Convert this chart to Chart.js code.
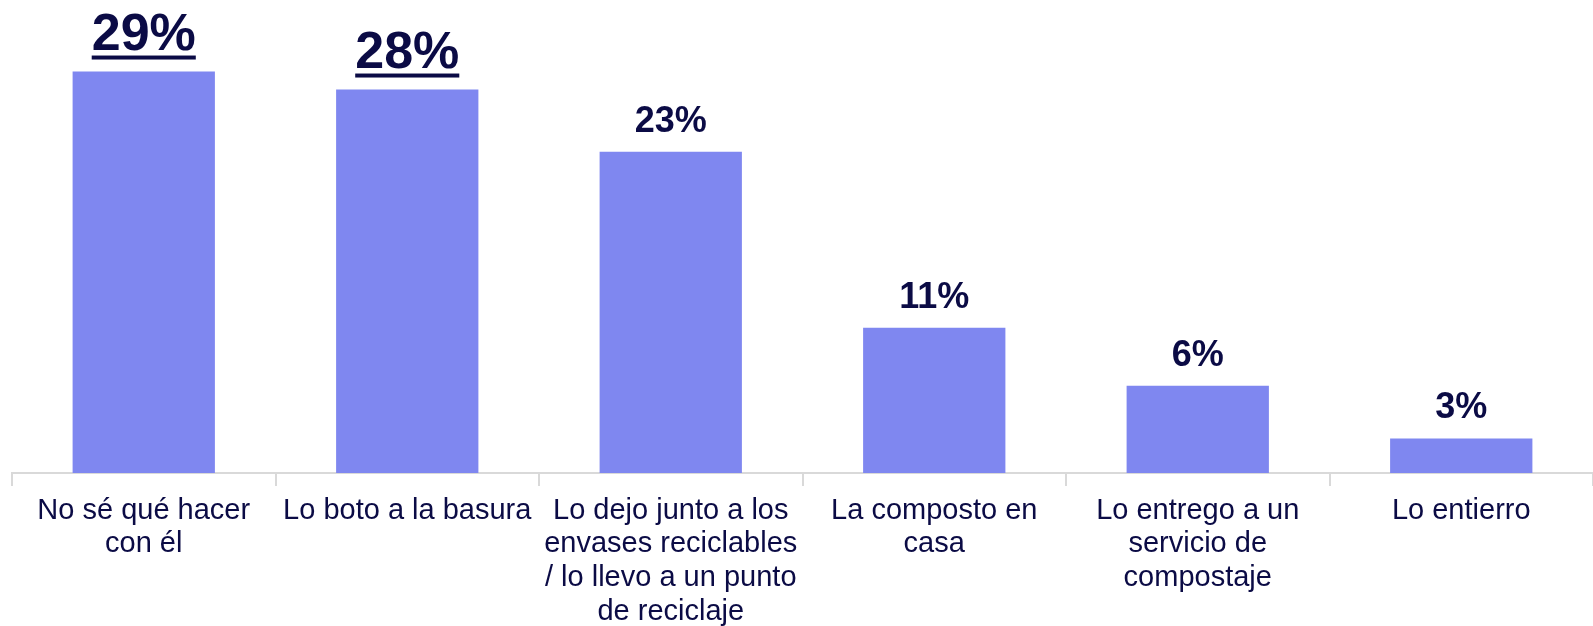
<!DOCTYPE html>
<html lang="es">
<head>
<meta charset="utf-8">
<title>¿Qué hace con el residuo?</title>
<script src="https://cdn.jsdelivr.net/npm/chart.js@4.4.0/dist/chart.umd.min.js"></script>
<style>
  html, body { margin: 0; padding: 0; background: #ffffff; }
  #wrap { position: relative; width: 1593px; height: 626px; }
</style>
</head>
<body>
<div id="wrap"><canvas id="chart"></canvas></div>
<script>
// Categories (multi-line labels, as in the original)
const categories = [
  ['No sé qué hacer', 'con él'],
  ['Lo boto a la basura'],
  ['Lo dejo junto a los', 'envases reciclables', '/ lo llevo a un punto', 'de reciclaje'],
  ['La composto en', 'casa'],
  ['Lo entrego a un', 'servicio de', 'compostaje'],
  ['Lo entierro']
];

// Share of respondents (%)
const values = [29, 27.7, 23.2, 10.5, 6.3, 2.5];

// Labels shown above the bars
const valueLabels = ['29%', '28%', '23%', '11%', '6%', '3%'];

// Top answers get the big underlined label
const highlighted = [true, true, false, false, false, false];

const FONT = '"Liberation Sans", Arial, Helvetica, sans-serif';
const INK = '#0b0b45';
const BAR = '#7f87f0';
const AXIS = '#d9d9d9';

// Draw value labels above bars
const valueLabelPlugin = {
  id: 'valueLabels',
  afterDatasetsDraw(chart) {
    const ctx = chart.ctx;
    const meta = chart.getDatasetMeta(0);
    ctx.save();
    ctx.fillStyle = INK;
    ctx.textAlign = 'center';
    ctx.textBaseline = 'alphabetic';
    meta.data.forEach((bar, i) => {
      const big = highlighted[i];
      ctx.font = `bold ${big ? 52 : 36}px ${FONT}`;
      const baseline = bar.y - (big ? 22 : 20);
      ctx.fillText(valueLabels[i], bar.x, baseline);
      if (big) {
        const w = ctx.measureText(valueLabels[i]).width;
        ctx.fillRect(bar.x - w / 2, baseline + 6, w, 4);
      }
    });
    ctx.restore();
  }
};

new Chart(document.getElementById('chart').getContext('2d'), {
  type: 'bar',
  data: {
    labels: categories,
    datasets: [{
      data: values,
      backgroundColor: BAR,
      borderWidth: 0,
      categoryPercentage: 0.54,
      barPercentage: 1
    }]
  },
  options: {
    responsive: true,
    maintainAspectRatio: false,
    animation: false,
    layout: { padding: { top: 30, left: 12, right: 0, bottom: 0 } },
    plugins: {
      legend: { display: false },
      tooltip: { enabled: false }
    },
    scales: {
      x: {
        grid: {
          offset: true,
          drawOnChartArea: false,
          drawTicks: true,
          tickLength: 13,
          color: AXIS,
          lineWidth: 2
        },
        border: { display: true, color: AXIS, width: 2 },
        ticks: {
          color: INK,
          font: { family: FONT, size: 29, lineHeight: 1.16 },
          padding: 8,
          maxRotation: 0,
          autoSkip: false
        },
        afterFit: scale => { scale.height = 153; }
      },
      y: {
        display: false,
        min: 0,
        max: 32
      }
    }
  },
  plugins: [valueLabelPlugin]
});
</script>
</body>
</html>
